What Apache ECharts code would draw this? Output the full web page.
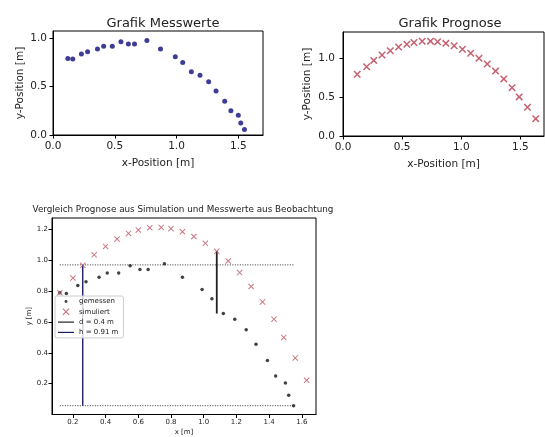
<!DOCTYPE html>
<html><head><meta charset="utf-8">
<script src="https://cdn.jsdelivr.net/npm/echarts@6/dist/echarts.min.js"></script>
<style>html,body{margin:0;padding:0;background:#fff}#c{width:545px;height:437px}</style>
</head><body><div id="c"></div>
<script>
// ---- data ----
const measX = [0.12, 0.16, 0.23, 0.28, 0.36, 0.41, 0.48, 0.55, 0.61, 0.66, 0.76, 0.87, 0.99, 1.05, 1.12, 1.19, 1.26, 1.32, 1.39, 1.44, 1.50, 1.52, 1.55];
const measY = [0.79, 0.785, 0.836, 0.86, 0.89, 0.918, 0.918, 0.965, 0.94, 0.94, 0.977, 0.89, 0.81, 0.75, 0.655, 0.617, 0.55, 0.455, 0.35, 0.25, 0.205, 0.125, 0.057];
const simX = [0.12, 0.20, 0.26, 0.33, 0.40, 0.47, 0.54, 0.60, 0.67, 0.74, 0.80, 0.87, 0.94, 1.01, 1.08, 1.15, 1.22, 1.29, 1.36, 1.43, 1.49, 1.56, 1.63];
const simY = [0.79, 0.885, 0.967, 1.035, 1.09, 1.138, 1.174, 1.196, 1.211, 1.213, 1.205, 1.185, 1.154, 1.11, 1.058, 0.995, 0.92, 0.83, 0.73, 0.618, 0.50, 0.367, 0.222];
const topXTicks = [0.0, 0.5, 1.0, 1.5];
const topYTicks = [0.0, 0.5, 1.0];
const bottomXTicks = [0.2, 0.4, 0.6, 0.8, 1.0, 1.2, 1.4, 1.6];
const bottomYTicks = [0.2, 0.4, 0.6, 0.8, 1.0, 1.2];
const hLine = [0.26, 0.057, 0.97];   // x, y bottom, y top
const dLine = [1.08, 0.655, 1.058];  // x, y bottom, y top
const refLevels = [0.97, 0.057];
const titles = ['Grafik Messwerte', 'Grafik Prognose', 'Vergleich Prognose aus Simulation und Messwerte aus Beobachtung'];
const axisNames = ['x-Position [m]', 'y-Position [m]', 'x [m]', 'y [m]'];
const legendNames = ['gemessen', 'simuliert', 'd = 0.4 m', 'h = 0.91 m'];

// ---- build ----
const FF = 'DejaVu Sans';
const zip = (xs, ys) => xs.map((x, i) => [x, ys[i]]);
const X_THICK = 'path://M0,1.4L1.4,0L10,8.6L8.6,10Z M8.6,0L10,1.4L1.4,10L0,8.6Z';
const X_THIN = 'path://M0,1.1L1.1,0L10,8.9L8.9,10Z M8.9,0L10,1.1L1.1,10L0,8.9Z';
const DOT_ICON = 'path://M0,0 M10,10 M3,5 A2,2 0 1,0 7,5 A2,2 0 1,0 3,5 Z';
const LINE_ICON = 'path://M0,4.4L16,4.4L16,5.6L0,5.6Z';

function ax(grid, min, max, ticks, name, fs, margin, nameGap) {
  return {
    type: 'value', gridIndex: grid, min: min, max: max,
    axisLine: {show: true, onZero: false, lineStyle: {color: '#000', width: 1}},
    axisTick: {show: true, length: 3.5, customValues: ticks, lineStyle: {color: '#000'}},
    axisLabel: {customValues: ticks, formatter: v => v.toFixed(1), fontSize: fs, color: '#222', fontFamily: FF, margin: margin},
    splitLine: {show: false},
    name: name, nameLocation: 'middle', nameGap: nameGap,
    nameTextStyle: {fontSize: fs, color: '#222', fontFamily: FF}
  };
}

const chart = echarts.init(document.getElementById('c'), null, {renderer: 'canvas'});
chart.setOption({
  animation: false,
  backgroundColor: '#fff',
  title: [
    {text: titles[0], left: 158, top: 12, textAlign: 'center', textStyle: {fontSize: 13, fontWeight: 'normal', color: '#222', fontFamily: FF}},
    {text: titles[1], left: 445, top: 12, textAlign: 'center', textStyle: {fontSize: 13, fontWeight: 'normal', color: '#222', fontFamily: FF}},
    {text: titles[2], left: 183, top: 205, textAlign: 'center', padding: 0, textStyle: {fontSize: 8.8, fontWeight: 'normal', color: '#222', fontFamily: FF}}
  ],
  grid: [
    {left: 53, top: 31, width: 210, height: 104, show: true, borderColor: '#000', borderWidth: 1, backgroundColor: 'transparent'},
    {left: 343, top: 32, width: 201, height: 104, show: true, borderColor: '#000', borderWidth: 1, backgroundColor: 'transparent'},
    {left: 52, top: 218, width: 264, height: 200, show: true, borderColor: '#000', borderWidth: 1, backgroundColor: 'transparent'}
  ],
  xAxis: [
    ax(0, 0, 1.70, topXTicks, axisNames[0], 10.5, 6, 23),
    ax(1, 0, 1.70, topXTicks, axisNames[0], 10.5, 6, 23),
    ax(2, 0.072, 1.687, bottomXTicks, axisNames[2], 7, 4.5, 14.5)
  ],
  yAxis: [
    ax(0, 0, 1.075, topYTicks, axisNames[1], 10.5, 6, 27),
    ax(1, 0, 1.33, topYTicks, axisNames[1], 10.5, 8, 30),
    ax(2, 0, 1.274, bottomYTicks, axisNames[3], 7, 4, 19)
  ],
  legend: {
    orient: 'vertical', left: 55, top: 296,
    itemWidth: 16, itemHeight: 7, itemGap: 3.3,
    padding: [2, 5, 2, 3],
    backgroundColor: 'rgba(255,255,255,0.8)', borderColor: '#ccc', borderWidth: 1, borderRadius: 2,
    textStyle: {fontSize: 7, color: '#222', fontFamily: FF},
    data: [
      {name: legendNames[0], icon: DOT_ICON},
      {name: legendNames[1], icon: X_THIN},
      {name: legendNames[2], icon: LINE_ICON},
      {name: legendNames[3], icon: LINE_ICON}
    ]
  },
  series: [
    {type: 'scatter', name: 'Messwerte', xAxisIndex: 0, yAxisIndex: 0, data: zip(measX, measY),
     symbol: 'circle', symbolSize: 5, itemStyle: {color: '#0c0c7c'}},
    {type: 'scatter', name: 'Prognose', xAxisIndex: 1, yAxisIndex: 1, data: zip(simX, simY),
     symbol: X_THICK, symbolSize: 7.5, itemStyle: {color: '#b53a4c'}},
    {type: 'line', name: 'ref1', xAxisIndex: 2, yAxisIndex: 2, symbol: 'none', silent: true,
     data: [[measX[0], refLevels[0]], [measX[measX.length - 1], refLevels[0]]],
     lineStyle: {color: '#333', width: 1, type: [1, 1.5]}},
    {type: 'line', name: 'ref2', xAxisIndex: 2, yAxisIndex: 2, symbol: 'none', silent: true,
     data: [[measX[0], refLevels[1]], [measX[measX.length - 1], refLevels[1]]],
     lineStyle: {color: '#333', width: 1, type: [1, 1.5]}},
    {type: 'line', name: legendNames[3], xAxisIndex: 2, yAxisIndex: 2, symbol: 'none',
     data: [[hLine[0], hLine[1]], [hLine[0], hLine[2]]],
     lineStyle: {color: '#1c1c6a', width: 1.4}, itemStyle: {color: '#1c1c6a'}},
    {type: 'line', name: legendNames[2], xAxisIndex: 2, yAxisIndex: 2, symbol: 'none',
     data: [[dLine[0], dLine[1]], [dLine[0], dLine[2]]],
     lineStyle: {color: '#222', width: 1.8}, itemStyle: {color: '#222'}},
    {type: 'scatter', name: legendNames[0], xAxisIndex: 2, yAxisIndex: 2, data: zip(measX, measY),
     symbol: 'circle', symbolSize: 3.5, itemStyle: {color: '#111'}, z: 3},
    {type: 'scatter', name: legendNames[1], xAxisIndex: 2, yAxisIndex: 2, data: zip(simX, simY),
     symbol: X_THIN, symbolSize: 6, itemStyle: {color: '#b8505e'}, z: 3}
  ]
});
</script>
</body></html>
